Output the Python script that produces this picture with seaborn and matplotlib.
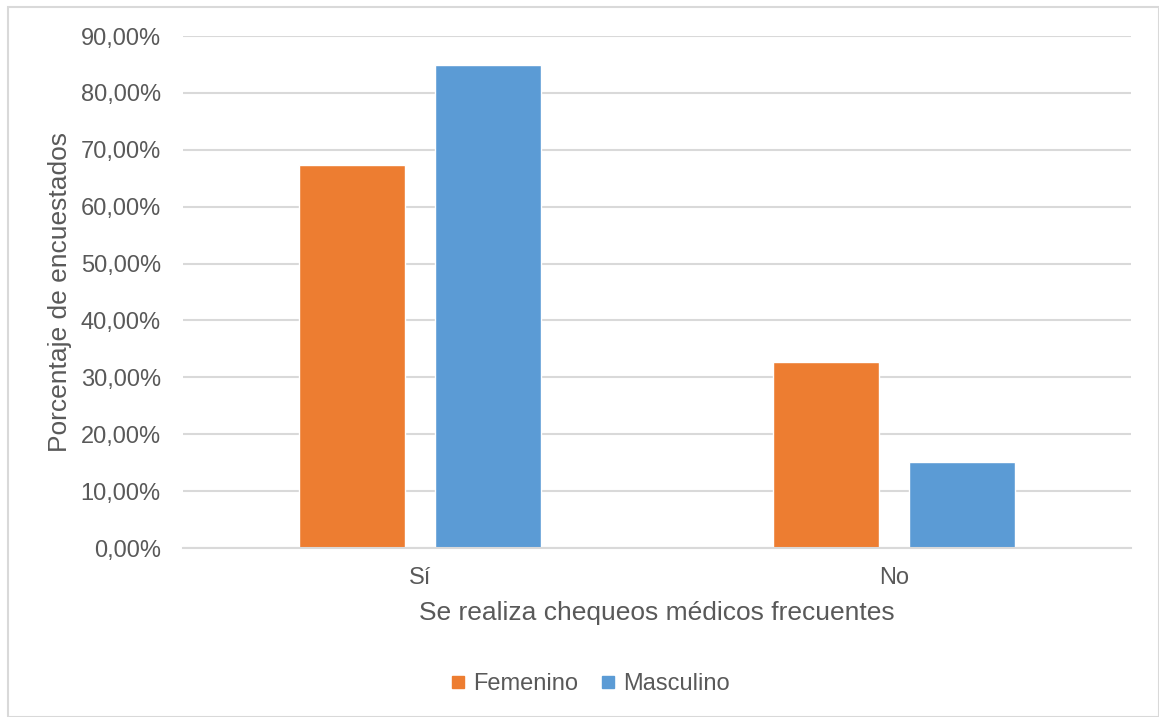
import pandas as pd
import matplotlib
matplotlib.use('Agg')
import matplotlib.pyplot as plt
import seaborn as sns
from matplotlib.ticker import FuncFormatter
from matplotlib.patches import Rectangle
from matplotlib.lines import Line2D

sns.set_style('white')
plt.rcParams['font.family'] = ['Liberation Sans', 'DejaVu Sans']

categories = ['Sí', 'No']
generos = ['Femenino', 'Masculino']
femenino = [67.39, 32.61]
masculino = [84.85, 15.15]

COLORS = {'Femenino': '#ED7D31', 'Masculino': '#5B9BD5'}
TXT = '#595959'
GRID = '#D9D9D9'

df = pd.DataFrame({
    'respuesta': categories * 2,
    'genero': ['Femenino'] * 2 + ['Masculino'] * 2,
    'pct': femenino + masculino,
})

fig = plt.figure(figsize=(11.59, 7.17), dpi=100)
ax = fig.add_axes([183 / 1159, 1 - 548 / 717, (1131 - 183) / 1159, (548 - 36) / 717])

sns.barplot(data=df, x='respuesta', y='pct', hue='genero', order=categories,
            hue_order=generos, palette=COLORS, width=0.57, gap=0.215,
            saturation=1, legend=False, ax=ax)

ax.set_xlim(-0.5, 1.5)
ax.set_ylim(0, 90)
ax.set_yticks(range(0, 91, 10))
ax.yaxis.set_major_formatter(FuncFormatter(lambda v, p: f'{v:.2f}'.replace('.', ',') + '%'))
ax.grid(True, axis='y', color=GRID, linewidth=1.5)
ax.set_axisbelow(True)
for s in ['top', 'right', 'left']:
    ax.spines[s].set_visible(False)
ax.spines['bottom'].set_color(GRID)
ax.spines['bottom'].set_linewidth(1.5)
ax.tick_params(axis='y', length=0, pad=16, labelsize=17, labelcolor=TXT)
ax.tick_params(axis='x', length=0, pad=14, labelsize=17, labelcolor=TXT)
ax.set_xlabel('Se realiza chequeos médicos frecuentes', fontsize=19, color=TXT, labelpad=8)
ax.set_ylabel('Porcentaje de encuestados', fontsize=19, color=TXT, labelpad=6)

handles = [Line2D([], [], marker='s', linestyle='none', markersize=9,
                  color=COLORS[g]) for g in generos]
fig.legend(handles, generos, loc='center', bbox_to_anchor=(590 / 1159, 1 - 684 / 717),
           ncol=2, frameon=False, fontsize=17, labelcolor=TXT,
           handlelength=0.7, handletextpad=0.3, columnspacing=0.9)

fig.patches.append(Rectangle((8 / 1159, 0), 1 - 8 / 1159, 1 - 7 / 717,
                             transform=fig.transFigure, fill=False,
                             edgecolor=GRID, linewidth=1.5))

fig.savefig('out.png', dpi=100)
plt.close()
